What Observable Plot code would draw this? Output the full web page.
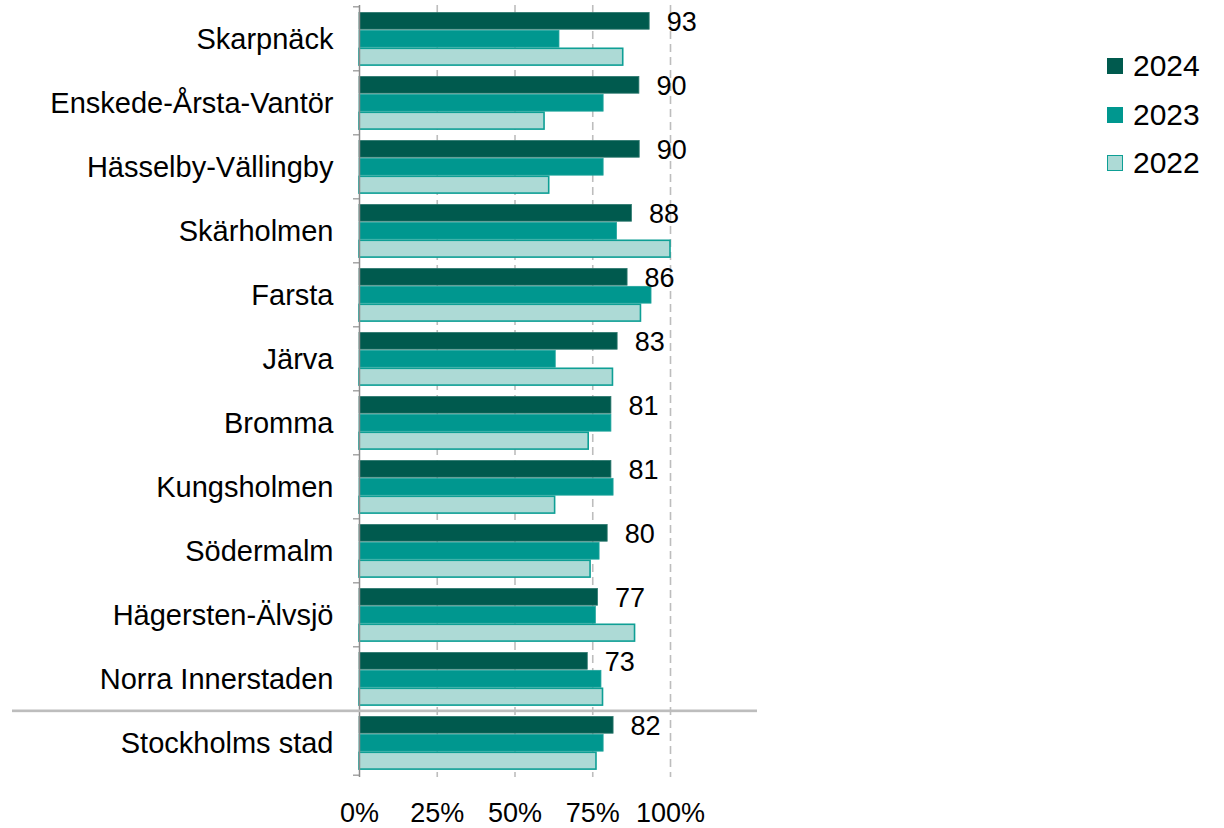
<!DOCTYPE html>
<html><head><meta charset="utf-8">
<script src="https://cdn.jsdelivr.net/npm/d3@7"></script>
<script src="https://cdn.jsdelivr.net/npm/@observablehq/plot@0.6"></script>
<style>
body{margin:0;background:#fff;font-family:"Liberation Sans",Arial,sans-serif;}
#wrap{position:relative;width:1224px;height:828px;}
#legend{position:absolute;left:1107px;top:42px;}
.li{display:flex;align-items:center;height:48.5px;font-size:30px;color:#000;}
.sw{width:16px;height:16px;margin-right:10px;box-sizing:border-box;}
g[aria-label="y-axis"] text, g[aria-label="y-axis tick label"] text{font-size:29px;}
</style></head><body>
<div id="wrap"><div id="chart"></div><div id="legend"></div></div>
<script>
const categories = ["Skarpnäck","Enskede-Årsta-Vantör","Hässelby-Vällingby","Skärholmen","Farsta","Järva","Bromma","Kungsholmen","Södermalm","Hägersten-Älvsjö","Norra Innerstaden","Stockholms stad"];
const years = ["2024","2023","2022"];
const v2024 = [93.3, 90.0, 90.1, 87.6, 86.2, 83.0, 81.0, 81.0, 79.8, 76.7, 73.4, 81.7];
const v2023 = [64.3, 78.5, 78.5, 82.8, 93.9, 63.1, 81.0, 81.7, 77.2, 76.0, 77.8, 78.5];
const v2022 = [84.8, 59.5, 61.0, 100.0, 90.5, 81.5, 73.7, 62.9, 74.3, 88.6, 78.3, 76.2];
const xTicks = [0, 25, 50, 75, 100];
const totalCategory = "Stockholms stad";

const fills = {"2024":"#005A4E","2023":"#00978F","2022":"#ADDAD6"};
const strokes = {"2024":"#2F7A70","2023":"#22A59D","2022":"#0E9F95"};

const W = 1224, H = 828, mT = 5, mB = 51, mL = 359, mR = 554;
const step = (H - mT - mB) / categories.length;
const padTop = 5, padBottom = 5.5;
const barH = (step - padTop - padBottom) / 3;

const series = {"2024": v2024, "2023": v2023, "2022": v2022};
const rows = years.flatMap(y => categories.map((c, i) => ({cat: c, year: y, v: series[y][i]})));

function barsFor(year, k) {
  return Plot.barX(rows.filter(d => d.year === year), {
    x: "v", y: "cat",
    fill: fills[year], stroke: strokes[year],
    strokeWidth: year === "2022" ? 1.6 : 0.8,
    insetTop: padTop + k * barH + 0.4,
    insetBottom: step - (padTop + (k + 1) * barH) + 0.4
  });
}

const pxPerUnit = (W - mL - mR) / 100;
const tickLen = 6 / pxPerUnit;

const chart = Plot.plot({
  width: W, height: H,
  marginTop: mT, marginBottom: mB, marginLeft: mL, marginRight: mR,
  style: {fontFamily: '"Liberation Sans", Arial, sans-serif', fontSize: "27px", color: "#000", background: "#fff"},
  x: {domain: [0, 100], ticks: xTicks, tickFormat: d => d + "%", tickSize: 0, tickPadding: 25, label: null},
  y: {domain: categories, padding: 0, tickSize: 0, tickPadding: 26, label: null},
  marks: [
    Plot.ruleX(xTicks.filter(d => d > 0), {stroke: "#BDBDBD", strokeWidth: 1.6, strokeDasharray: "8,5"}),
    barsFor("2024", 0),
    barsFor("2023", 1),
    barsFor("2022", 2),
    // y axis line
    Plot.ruleX([0], {stroke: "#8C8C8C", strokeWidth: 1.5}),
    // tick marks at band boundaries
    Plot.barX(categories, {y: d => d, x1: -tickLen, x2: 0, fill: "#8C8C8C", insetTop: -0.75, insetBottom: step - 0.75}),
    Plot.barX([categories[categories.length - 1]], {y: d => d, x1: -tickLen, x2: 0, fill: "#8C8C8C", insetTop: step - 0.75, insetBottom: -0.75}),
    // separator above the city total
    Plot.barX([totalCategory], {y: d => d, x1: -(mL - 12) / pxPerUnit, x2: (757 - mL) / pxPerUnit, fill: "#BDBDBD", insetTop: -1.5, insetBottom: step - 1.5}),
    // value labels for 2024
    Plot.text(rows.filter(d => d.year === "2024"), {x: "v", y: "cat", text: d => String(Math.round(d.v)), dx: 17, dy: -17, textAnchor: "start", fill: "#000", fontSize: 27})
  ]
});
document.getElementById("chart").appendChild(chart);

const legend = document.getElementById("legend");
for (const y of years) {
  const li = document.createElement("div");
  li.className = "li";
  const sw = document.createElement("div");
  sw.className = "sw";
  sw.style.background = fills[y];
  if (y === "2022") sw.style.border = "1.5px solid " + strokes[y];
  li.appendChild(sw);
  const t = document.createElement("span");
  t.textContent = y;
  li.appendChild(t);
  legend.appendChild(li);
}
</script>
</body></html>
